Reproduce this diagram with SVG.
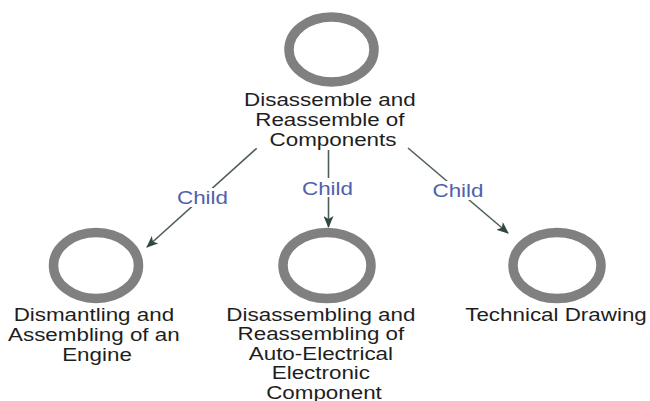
<svg xmlns="http://www.w3.org/2000/svg" width="650" height="401" viewBox="0 0 650 401">
  <defs>
    <marker id="arrow" viewBox="0 0 12 10" refX="11" refY="5" markerWidth="12" markerHeight="10" markerUnits="userSpaceOnUse" orient="auto">
      <path d="M0,0 L12,5 L0,10 L3,5 z" fill="#2e4a40"/>
    </marker>
  </defs>
  <style>
    .ring { fill: none; stroke: #808080; stroke-width: 9.5; }
    .lbl { font-family: "Liberation Sans", Arial, sans-serif; font-size: 17.5px; fill: #1e1e1e; text-anchor: middle; }
    .edge { stroke: #4f605a; stroke-width: 1.6; fill: none; }
    .elbl { font-family: "Liberation Sans", Arial, sans-serif; font-size: 17.5px; fill: #4e62ac; text-anchor: middle; }
    .bg { fill: #ffffff; }
  </style>
  <rect width="650" height="401" fill="#ffffff"/>

  <g id="connectors">
    <line class="edge" x1="256.7" y1="148.3" x2="147" y2="247" marker-end="url(#arrow)"/>
    <line class="edge" x1="328.5" y1="150" x2="328.5" y2="227" marker-end="url(#arrow)"/>
    <line class="edge" x1="408" y1="148" x2="508" y2="233" marker-end="url(#arrow)"/>
    <rect class="bg" x="175" y="188" width="55" height="19"/>
    <text class="elbl" transform="translate(202.5,204) scale(1.28,1)">Child</text>
    <rect class="bg" x="301" y="178" width="55" height="19"/>
    <text class="elbl" transform="translate(327.5,194.5) scale(1.28,1)">Child</text>
    <rect class="bg" x="431" y="181" width="55" height="19"/>
    <text class="elbl" transform="translate(458,197) scale(1.28,1)">Child</text>
  </g>

  <g id="node-root">
    <ellipse class="ring" cx="331.5" cy="49.5" rx="42.5" ry="32.5"/>
    <text class="lbl" transform="translate(333,106) scale(1.28,1)">
      <tspan x="0" y="0">Disassemble and</tspan>
      <tspan x="0" y="20">Reassemble of</tspan>
      <tspan x="0" y="40">Components</tspan>
    </text>
  </g>

  <g id="node-engine">
    <ellipse class="ring" cx="96" cy="265.5" rx="42.5" ry="33"/>
    <text class="lbl" transform="translate(97,321) scale(1.28,1)">
      <tspan x="0" y="0">Dismantling and</tspan>
      <tspan x="0" y="20">Assembling of an</tspan>
      <tspan x="0" y="40">Engine</tspan>
    </text>
  </g>

  <g id="node-electrical">
    <ellipse class="ring" cx="327" cy="265.5" rx="44" ry="33"/>
    <text class="lbl" transform="translate(324,320.5) scale(1.28,1)">
      <tspan x="0" y="0">Disassembling and</tspan>
      <tspan x="0" y="19.6">Reassembling of</tspan>
      <tspan x="0" y="39.2">Auto-Electrical</tspan>
      <tspan x="0" y="58.8">Electronic</tspan>
      <tspan x="0" y="78.2">Component</tspan>
    </text>
  </g>

  <g id="node-drawing">
    <ellipse class="ring" cx="557" cy="265.5" rx="44" ry="33"/>
    <text class="lbl" transform="translate(556,320.5) scale(1.28,1)">Technical Drawing</text>
  </g>
</svg>
